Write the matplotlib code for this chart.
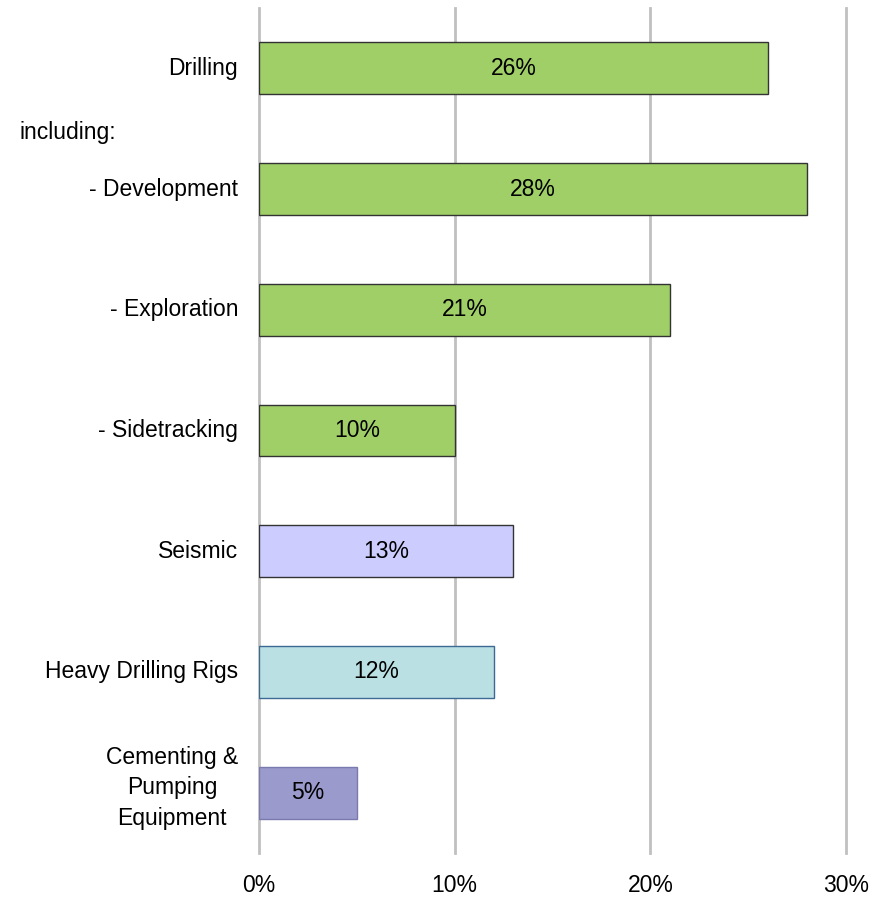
import matplotlib
matplotlib.use("Agg")
from matplotlib import pyplot as plt

categorias = ["Drilling", "- Development", "- Exploration", "- Sidetracking",
              "Seismic", "Heavy Drilling Rigs", "Cementing &\nPumping\nEquipment"]
valores = [26, 28, 21, 10, 13, 12, 5]
cores = ["#A0CF68", "#A0CF68", "#A0CF68", "#A0CF68", "#CCCCFF", "#BBE0E3", "#9A9ACC"]
bordas = ["#333333", "#333333", "#333333", "#333333", "#333333", "#3C6A94", "#7A7AAE"]
ticks_x = [0, 10, 20, 30]

plt.rcParams['font.family'] = ['Liberation Sans', 'DejaVu Sans']
tam = 16.5

fig = plt.figure(figsize=(8.7, 8.97), dpi=100)
ax = fig.add_axes([259 / 870, 1 - 853 / 897, (846 - 259) / 870, (853 - 8) / 897])

pos = list(range(len(categorias)))
ax.barh(pos, valores, height=0.43, color=cores, edgecolor=bordas, linewidth=1, zorder=3)

for p, v in zip(pos, valores):
    ax.text(v / 2, p, f"{v}%", ha='center', va='center', fontsize=tam, zorder=4)

ax.set_xlim(0, 30)
ax.set_ylim(6.5, -0.5)
ax.set_xticks(ticks_x)
ax.set_xticklabels([f"{t}%" for t in ticks_x], fontsize=tam)
ax.tick_params(axis='x', length=0, pad=15)
ax.set_yticks([])
ax.grid(axis='x', color='#C0C0C0', linewidth=2, zorder=0)
for gl in ax.get_xgridlines():
    gl.set_clip_on(False)
for lado in ax.spines.values():
    lado.set_visible(False)

# rotulos das categorias a esquerda
for p, nome in zip(pos, categorias):
    if "\n" in nome:
        ax.text(-1.07, p - 0.04, nome, ha='right', va='center', fontsize=tam,
                multialignment='center', linespacing=1.4)
    else:
        ax.text(-1.07, p, nome, ha='right', va='center', fontsize=tam)

fig.text(20 / 870, 1 - 133 / 897, "including:", ha='left', va='center', fontsize=tam)

fig.savefig("out.png", dpi=100)
